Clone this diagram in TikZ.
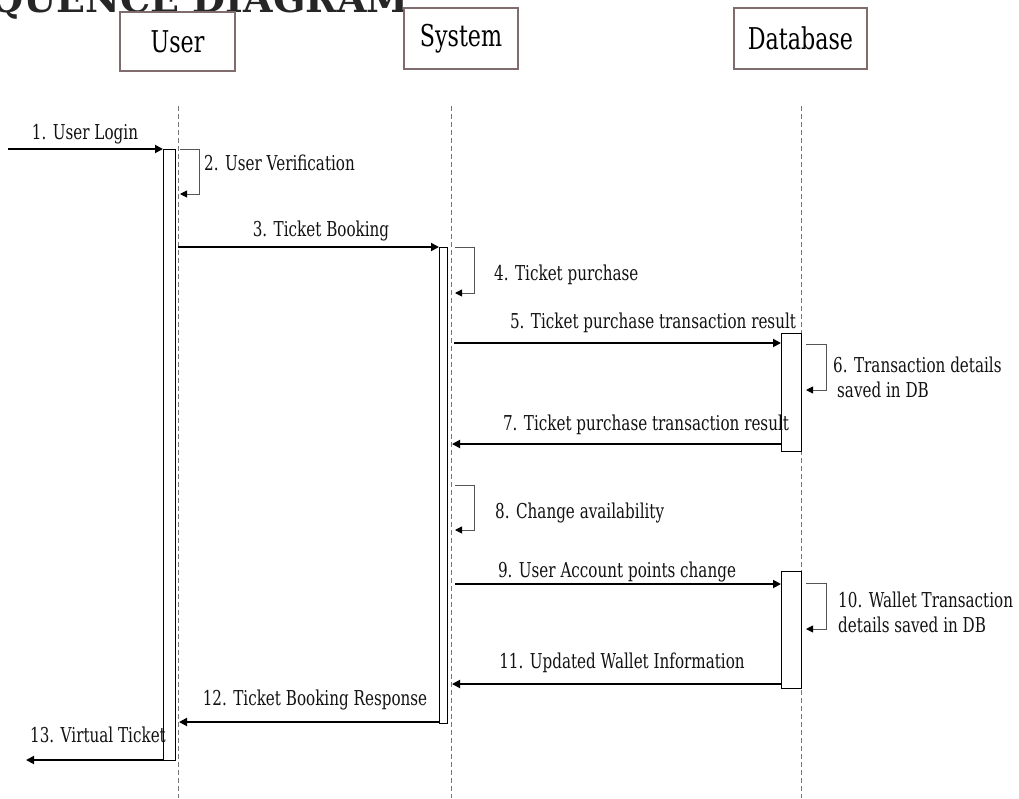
\documentclass[tikz,border=0pt]{standalone}
\usepackage{fontspec}
\setmainfont{DejaVu Serif}[FakeStretch=0.74]
\newfontfamily\titlefont{DejaVu Serif}
\usetikzlibrary{arrows.meta}
\definecolor{boxline}{RGB}{128,108,108}
\definecolor{lifegray}{RGB}{120,120,120}
\definecolor{loopgray}{RGB}{85,85,85}
\begin{document}
\begin{tikzpicture}[x=1pt,y=-1pt,
  head/.style={draw=boxline,line width=1.2pt,fill=white,inner sep=0pt,
    font=\fontsize{30}{36}\selectfont},
  life/.style={draw=lifegray,line width=0.8pt,dash pattern=on 5pt off 3pt},
  act/.style={draw=black,line width=1.2pt,fill=white,inner sep=0pt,anchor=north west},
  msg/.style={draw=black,line width=1.8pt,-{Triangle[length=8pt,width=8pt]}},
  selfloop/.style={draw=loopgray,line width=0.9pt,-{Triangle[length=7pt,width=7pt,color=black]}},
  lbl/.style={inner sep=0pt,text=black!93,font=\fontsize{20.5}{24}\selectfont},
]
\useasboundingbox (0,0) rectangle (1019,798);
\clip (0,0) rectangle (1019,798);

% title (cropped at the top edge)
\node[inner sep=0pt,anchor=base east,font=\titlefont\bfseries\fontsize{38}{40}\selectfont,text=black!85] (title) at (409,12) {SEQUENCE DIAGRAM};

% lifeline heads
\node[head,minimum width=115pt,minimum height=59pt] (user) at (177.5,41.5) {User};
\node[head,minimum width=114pt,minimum height=61pt] (sys) at (461,38.5) {System};
\node[head,minimum width=133pt,minimum height=61pt] (db) at (800.5,38.5) {Database};

% lifelines
\coordinate (ul) at (178,106);
\coordinate (sl) at (451,106);
\coordinate (dl) at (801,106);
\coordinate (ulb) at (178,798);
\coordinate (slb) at (451,798);
\coordinate (dlb) at (801,798);
\draw[life] (ul) -- (ulb);
\draw[life] (sl) -- (slb);
\draw[life] (dl) -- (dlb);

% activation bars
\node[act,minimum width=12pt,minimum height=611pt] (uact) at (163,149) {};
\node[act,minimum width=8pt,minimum height=476pt] (sact) at (439,247) {};
\node[act,minimum width=20pt,minimum height=118pt] (dact1) at (781,333) {};
\node[act,minimum width=20pt,minimum height=117pt] (dact2) at (781,571) {};

% message end points
\coordinate (m1a) at (8,149);     \coordinate (m1b) at (163,149);
\coordinate (l2a) at (180,149);   \coordinate (l2b) at (199,149);
\coordinate (l2c) at (199,194);   \coordinate (l2d) at (180,194);
\coordinate (m3a) at (178,247);   \coordinate (m3b) at (439,247);
\coordinate (l4a) at (455,247);   \coordinate (l4b) at (474,247);
\coordinate (l4c) at (474,293);   \coordinate (l4d) at (455,293);
\coordinate (m5a) at (454,343);   \coordinate (m5b) at (781,343);
\coordinate (l6a) at (806,344);   \coordinate (l6b) at (826,344);
\coordinate (l6c) at (826,390);   \coordinate (l6d) at (806,390);
\coordinate (m7a) at (781,444);   \coordinate (m7b) at (452,444);
\coordinate (l8a) at (455,485);   \coordinate (l8b) at (474,485);
\coordinate (l8c) at (474,530);   \coordinate (l8d) at (455,530);
\coordinate (m9a) at (455,584);   \coordinate (m9b) at (781,584);
\coordinate (l10a) at (806,583);  \coordinate (l10b) at (826,583);
\coordinate (l10c) at (826,629);  \coordinate (l10d) at (806,629);
\coordinate (m11a) at (781,684);  \coordinate (m11b) at (452,684);
\coordinate (m12a) at (439,722);  \coordinate (m12b) at (179,722);
\coordinate (m13a) at (163,760);  \coordinate (m13b) at (26,760);

% messages
\draw[msg] (m1a) -- (m1b);
\draw[selfloop] (l2a) -- (l2b) -- (l2c) -- (l2d);
\draw[msg] (m3a) -- (m3b);
\draw[selfloop] (l4a) -- (l4b) -- (l4c) -- (l4d);
\draw[msg] (m5a) -- (m5b);
\draw[selfloop] (l6a) -- (l6b) -- (l6c) -- (l6d);
\draw[msg] (m7a) -- (m7b);
\draw[selfloop] (l8a) -- (l8b) -- (l8c) -- (l8d);
\draw[msg] (m9a) -- (m9b);
\draw[selfloop] (l10a) -- (l10b) -- (l10c) -- (l10d);
\draw[msg] (m11a) -- (m11b);
\draw[msg] (m12a) -- (m12b);
\draw[msg] (m13a) -- (m13b);

% labels
\node[lbl,anchor=base] (t1) at (85,139) {1. User Login};
\node[lbl,anchor=base west] (t2) at (204,170) {2. User Verification};
\node[lbl,anchor=base] (t3) at (321,236) {3. Ticket Booking};
\node[lbl,anchor=base west] (t4) at (494,280) {4. Ticket purchase};
\node[lbl,anchor=base] (t5) at (653,328) {5. Ticket purchase transaction result};
\node[lbl,anchor=base west] (t6a) at (833,372) {6. Transaction details};
\node[lbl,anchor=base west] (t6b) at (837,397) {saved in DB};
\node[lbl,anchor=base] (t7) at (646,430) {7. Ticket purchase transaction result};
\node[lbl,anchor=base west] (t8) at (495,518) {8. Change availability};
\node[lbl,anchor=base] (t9) at (617,577) {9. User Account points change};
\node[lbl,anchor=base west] (t10a) at (838,607) {10. Wallet Transaction};
\node[lbl,anchor=base west] (t10b) at (838,632) {details saved in DB};
\node[lbl,anchor=base] (t11) at (622,668) {11. Updated Wallet Information};
\node[lbl,anchor=base] (t12) at (315,705) {12. Ticket Booking Response};
\node[lbl,anchor=base] (t13) at (98,742) {13. Virtual Ticket};
\end{tikzpicture}
\end{document}
